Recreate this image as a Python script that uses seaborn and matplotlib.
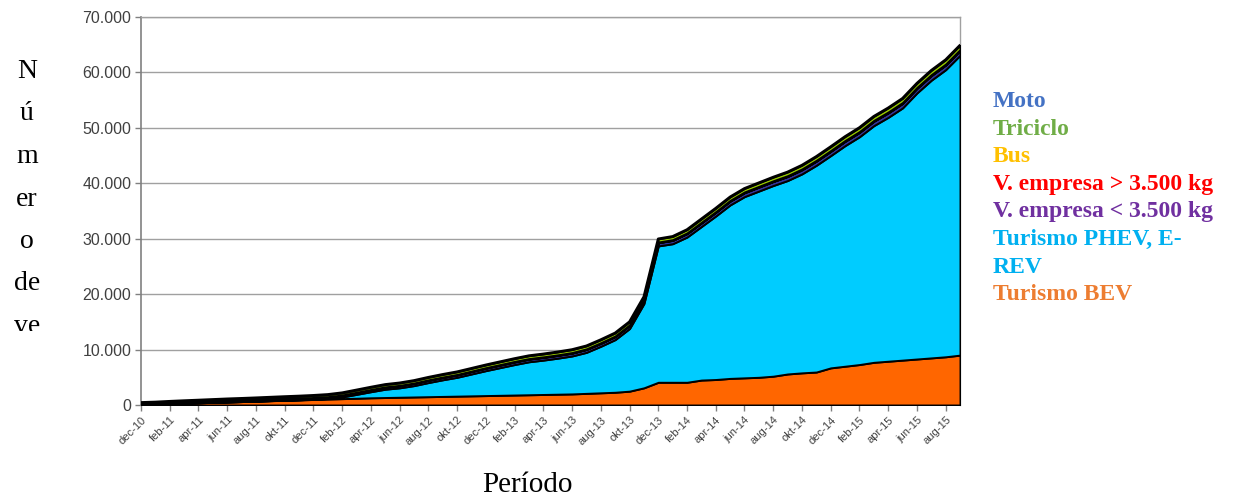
import numpy as np
import matplotlib
matplotlib.use("Agg")
import matplotlib.pyplot as plt
import seaborn as sns
from matplotlib.transforms import Bbox, TransformedBbox

# --- data: monthly fleet, dec-10 .. sep-15 ---
months = ["dec-10", "jan-11", "feb-11", "mar-11", "apr-11", "mei-11", "jun-11", "jul-11",
          "aug-11", "sep-11", "okt-11", "nov-11", "dec-11", "jan-12", "feb-12", "mar-12",
          "apr-12", "mei-12", "jun-12", "jul-12", "aug-12", "sep-12", "okt-12", "nov-12",
          "dec-12", "jan-13", "feb-13", "mar-13", "apr-13", "mei-13", "jun-13", "jul-13",
          "aug-13", "sep-13", "okt-13", "nov-13", "dec-13", "jan-14", "feb-14", "mar-14",
          "apr-14", "mei-14", "jun-14", "jul-14", "aug-14", "sep-14", "okt-14", "nov-14",
          "dec-14", "jan-15", "feb-15", "mar-15", "apr-15", "mei-15", "jun-15", "jul-15",
          "aug-15", "sep-15"]

turismo_bev = [100, 150, 250, 330, 400, 480, 550, 620, 700, 780, 850, 920, 1000, 1080,
               1150, 1220, 1300, 1350, 1400, 1450, 1500, 1550, 1600, 1650, 1700, 1750,
               1800, 1850, 1900, 1950, 2000, 2100, 2200, 2300, 2500, 3100, 4100, 4100,
               4100, 4500, 4600, 4800, 4900, 5000, 5200, 5600, 5800, 5950, 6700, 7000,
               7300, 7700, 7900, 8100, 8300, 8500, 8700, 9000]
turismo_phev = [0, 0, 0, 0, 0, 0, 0, 0, 0, 10, 20, 30, 50, 100, 300, 700, 1100, 1500,
                1700, 2050, 2550, 3000, 3400, 3950, 4500, 5000, 5500, 5950, 6200, 6500,
                6850, 7400, 8400, 9500, 11300, 15200, 24600, 25000, 26200, 27700, 29500,
                31300, 32700, 33600, 34400, 34900, 35900, 37300, 38300, 39800, 41100,
                42700, 44000, 45500, 48000, 50100, 51800, 54100]
empresa_lt = [80, 100, 120, 140, 160, 180, 200, 210, 220, 230, 240, 250, 260, 280, 300,
              320, 340, 360, 380, 400, 410, 420, 430, 440, 450, 460, 470, 480, 490, 500,
              510, 520, 530, 540, 550, 560, 580, 600, 620, 640, 660, 680, 700, 710, 720,
              730, 740, 750, 760, 770, 780, 790, 800, 810, 820, 830, 840, 850]
empresa_gt = [5, 5, 5, 5, 5, 5, 10, 10, 10, 10, 10, 10, 10, 10, 15, 15, 15, 15, 15, 15,
              20, 20, 20, 20, 20, 20, 20, 20, 25, 25, 25, 25, 25, 25, 25, 25, 30, 30, 30,
              30, 30, 30, 30, 30, 30, 35, 35, 35, 35, 35, 35, 35, 40, 40, 40, 40, 40, 40]
bus = [5, 5, 5, 5, 10, 10, 10, 10, 10, 10, 15, 15, 15, 15, 15, 20, 20, 20, 20, 20, 25, 25,
       25, 25, 25, 30, 30, 30, 30, 30, 30, 35, 35, 35, 35, 35, 40, 40, 40, 40, 40, 45, 45,
       45, 45, 45, 50, 50, 50, 50, 50, 55, 55, 55, 55, 60, 60, 60]
triciclo = [10, 10, 10, 15, 15, 15, 20, 20, 20, 20, 25, 25, 25, 25, 30, 30, 30, 30, 35, 35,
            35, 35, 40, 40, 40, 40, 45, 45, 45, 45, 50, 50, 50, 50, 55, 55, 55, 60, 60, 60,
            60, 65, 65, 65, 65, 70, 70, 70, 70, 75, 75, 75, 75, 80, 80, 80, 80, 80]
moto = [250, 260, 270, 280, 290, 300, 310, 320, 330, 340, 350, 360, 370, 380, 390, 400,
        410, 420, 430, 440, 450, 460, 470, 480, 490, 500, 505, 510, 515, 520, 525, 530,
        535, 540, 545, 550, 560, 570, 580, 590, 600, 610, 620, 630, 640, 650, 660, 670,
        680, 690, 700, 710, 720, 730, 740, 750, 760, 770]

series = [turismo_bev, turismo_phev, empresa_lt, empresa_gt, bus, triciclo, moto]
area_colors = ["#FF6600", "#00CCFF", "#333399", "#1a1a1a", "#1a1a1a", "#1a1a1a", "#99CC00"]

legend_labels = ["Moto", "Triciclo", "Bus", "V. empresa > 3.500 kg", "V. empresa < 3.500 kg",
                 "Turismo PHEV, E-", "REV", "Turismo BEV"]
legend_colors = ["#4472C4", "#70AD47", "#FFC000", "#FF0000", "#7030A0", "#00B0F0",
                 "#00B0F0", "#ED7D31"]

sns.set_theme(style="white")
plt.rcParams['font.family'] = ['Liberation Sans', 'DejaVu Sans']

fig = plt.figure(figsize=(12.33, 5), dpi=100)
ax = fig.add_axes([141 / 1233, 1 - 405 / 500, (960 - 141) / 1233, (405 - 17) / 500])

x = np.arange(len(months))
ax.stackplot(x, *series, colors=area_colors, edgecolor="black", linewidth=1.4, zorder=3)

# black outline on top of the stack
top = np.sum(series, axis=0)
sns.lineplot(x=x, y=top, color="black", linewidth=2, ax=ax, zorder=4)

ax.set_xlim(0, len(months) - 1)
ax.set_ylim(0, 70000)
ax.set_yticks(range(0, 70001, 10000))
ax.set_yticklabels([f"{v:,}".replace(",", ".") for v in range(0, 70001, 10000)],
                   fontsize=11.5, color="#404040")
ax.set_xticks(x[::2])
ax.set_xticklabels(months[::2], rotation=45, ha="right", rotation_mode="anchor",
                   fontsize=8, color="#404040")
ax.yaxis.grid(True, color="#A0A0A0", linewidth=1)
ax.set_axisbelow(True)
ax.tick_params(axis="both", direction="out", length=4, width=1, color="#808080",
               bottom=True, left=True, pad=3)
for s in ["top", "right"]:
    ax.spines[s].set_color("#A0A0A0")
    ax.spines[s].set_linewidth(1)
for s in ["left", "bottom"]:
    ax.spines[s].set_color("#808080")
    ax.spines[s].set_linewidth(1.2)

# axis titles (serif, like the original)
fig.text(527 / 1233, 1 - 485 / 500, "Período", fontsize=21, family="Liberation Serif",
         ha="center", va="center", color="black")
ylab_parts = ["N", "ú", "m", "er", "o", "de", "ve"]
clip = TransformedBbox(Bbox([[0, 1 - 331 / 500], [0.11, 1]]), fig.transFigure)
for i, part in enumerate(ylab_parts):
    t = fig.text(27 / 1233, 1 - (78 + i * 42.5) / 500, part, fontsize=20,
                 family="Liberation Serif", ha="center", va="baseline", color="black")
    t.set_clip_box(clip)
    t.set_clip_on(True)

# coloured text legend
for i, (lab, col) in enumerate(zip(legend_labels, legend_colors)):
    fig.text(993 / 1233, 1 - (107 + i * 27.6) / 500, lab, fontsize=17,
             family="Liberation Serif", weight="bold", color=col, ha="left", va="baseline")

plt.savefig("out.png", dpi=100)
